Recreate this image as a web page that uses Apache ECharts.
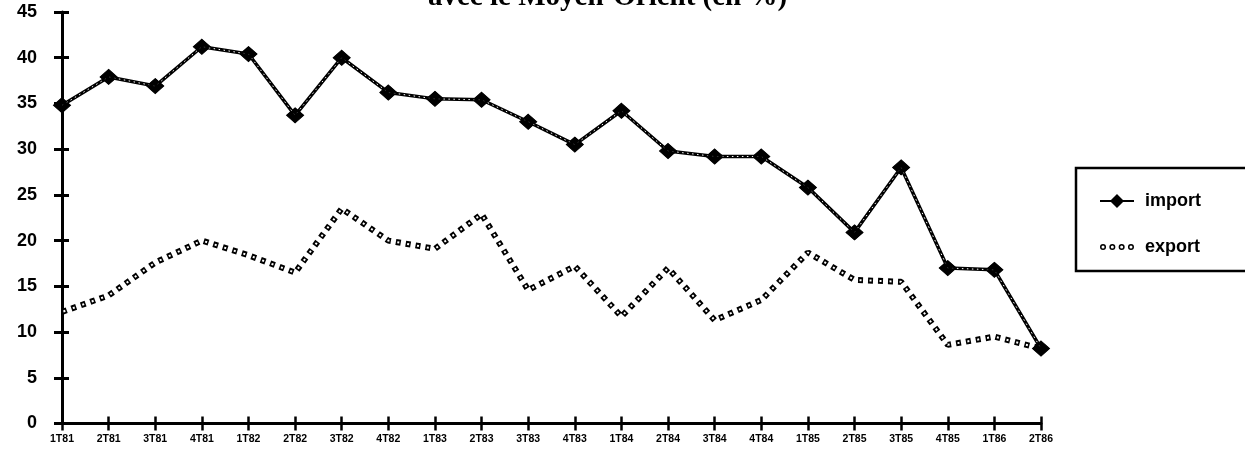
<!DOCTYPE html>
<html>
<head>
<meta charset="utf-8">
<script src="https://cdn.jsdelivr.net/npm/echarts@6/dist/echarts.min.js"></script>
<style>
  html, body { margin: 0; padding: 0; background: #fff; }
  #chart { width: 1245px; height: 455px; }
</style>
</head>
<body>
<div id="chart"></div>
<script>
// Quarterly share of trade with the Middle East (%)
const quarters = ['1T81','2T81','3T81','4T81','1T82','2T82','3T82','4T82',
                  '1T83','2T83','3T83','4T83','1T84','2T84','3T84','4T84',
                  '1T85','2T85','3T85','4T85','1T86','2T86'];
const importValues = [34.8, 37.9, 36.9, 41.2, 40.4, 33.7, 40.0, 36.2,
                      35.5, 35.4, 33.0, 30.5, 34.2, 29.8, 29.2, 29.2,
                      25.8, 20.9, 28.0, 17.0, 16.8, 8.2];
const exportValues = [12.2, 14.0, 17.6, 20.0, 18.4, 16.5, 23.5, 20.0,
                      19.1, 22.9, 14.6, 17.2, 11.7, 17.0, 11.3, 13.5,
                      18.7, 15.7, 15.5, 8.6, 9.5, 8.2];
const yTicks = { min: 0, max: 45, interval: 5 };
const titleText = 'avec le Moyen-Orient (en %)';

const chart = echarts.init(document.getElementById('chart'), null, { renderer: 'canvas' });

const axisFont = '"Liberation Sans", Arial, sans-serif';

// legend glyph for the export series: four small open rings
function ringsPath() {
  let d = '';
  for (let i = 0; i < 4; i++) {
    const cx = 3 + i * 8, cy = 3, r = 2.6, r2 = 1.3;
    d += `M${cx - r},${cy} a${r},${r} 0 1,0 ${2 * r},0 a${r},${r} 0 1,0 ${-2 * r},0 Z `;
    d += `M${cx - r2},${cy} a${r2},${r2} 0 1,1 ${2 * r2},0 a${r2},${r2} 0 1,1 ${-2 * r2},0 Z `;
  }
  return 'path://' + d;
}

const xBase = {
  type: 'category',
  data: quarters,
  boundaryGap: false,
  position: 'bottom'
};
const yBase = {
  type: 'value',
  min: yTicks.min,
  max: yTicks.max,
  interval: yTicks.interval,
  position: 'left',
  splitLine: { show: false }
};

chart.setOption({
  animation: false,
  backgroundColor: '#ffffff',
  grid: { left: 62, right: 204, top: 12, bottom: 31.5, containLabel: false },
  graphic: [
    {
      type: 'text',
      left: 428,
      top: -17,
      style: {
        text: titleText,
        font: 'bold 29px "Liberation Serif", "DejaVu Serif", serif',
        fill: '#000'
      },
      z: 10
    },
    {
      type: 'rect',
      shape: { x: 1076, y: 168, width: 180, height: 103 },
      style: { fill: '#fff', stroke: '#000', lineWidth: 2.5 },
      z: 1
    }
  ],
  legend: {
    orient: 'vertical',
    left: 1094,
    top: 187,
    itemWidth: 34,
    itemHeight: 14,
    itemGap: 28,
    data: [
      { name: 'import' },
      { name: 'export', icon: ringsPath(), itemStyle: { color: '#000' } }
    ],
    textStyle: { fontFamily: axisFont, fontSize: 18, fontWeight: 'bold', color: '#000', padding: [0, 0, 0, 6] },
    z: 5
  },
  xAxis: [
    Object.assign({}, xBase, {
      axisLine: { lineStyle: { color: '#000', width: 3 } },
      axisTick: { show: true, inside: false, length: 7, alignWithLabel: true,
                  lineStyle: { color: '#000', width: 2.5 } },
      axisLabel: { color: '#000', fontFamily: axisFont, fontSize: 10.5, fontWeight: 'bold', margin: 10 }
    }),
    Object.assign({}, xBase, {
      axisLine: { show: false },
      axisTick: { show: true, inside: true, length: 7, lineStyle: { color: '#000', width: 2.5 } },
      axisLabel: { show: false }
    })
  ],
  yAxis: [
    Object.assign({}, yBase, {
      axisLine: { show: true, lineStyle: { color: '#000', width: 3 } },
      axisTick: { show: true, inside: false, length: 8, lineStyle: { color: '#000', width: 3 } },
      axisLabel: { color: '#000', fontFamily: axisFont, fontSize: 18, fontWeight: 'bold', margin: 25 }
    }),
    Object.assign({}, yBase, {
      axisLine: { show: false },
      axisTick: { show: true, inside: true, length: 7, lineStyle: { color: '#000', width: 3 } },
      axisLabel: { show: false }
    })
  ],
  series: [
    {
      name: 'export',
      type: 'line',
      data: exportValues,
      symbol: 'none',
      lineStyle: { color: '#000', width: 6, type: [5, 5], cap: 'butt' },
      itemStyle: { color: '#000' },
      z: 3
    },
    {
      // hollow centres of the export dashes
      name: 'export-core',
      type: 'line',
      data: exportValues,
      symbol: 'none',
      lineStyle: { color: '#fff', width: 2, type: [2, 8], dashOffset: -1.5, cap: 'butt' },
      silent: true,
      z: 4
    },
    {
      name: 'import',
      type: 'line',
      data: importValues,
      symbol: 'diamond',
      symbolSize: [17, 15],
      showAllSymbol: true,
      lineStyle: { color: '#000', width: 3.5 },
      itemStyle: { color: '#000', borderColor: '#000', borderWidth: 1 },
      z: 5
    },
    {
      // speckled centre of the import chain
      name: 'import-core',
      type: 'line',
      data: importValues,
      symbol: 'none',
      lineStyle: { color: '#fff', width: 1, type: [1.5, 3.5] },
      silent: true,
      z: 6
    },
    {
      // diamond markers drawn above the chain line
      name: 'import-marks',
      type: 'scatter',
      data: importValues,
      symbol: 'diamond',
      symbolSize: [17, 15],
      itemStyle: { color: '#000' },
      silent: true,
      z: 7
    }
  ]
});
</script>
</body>
</html>
